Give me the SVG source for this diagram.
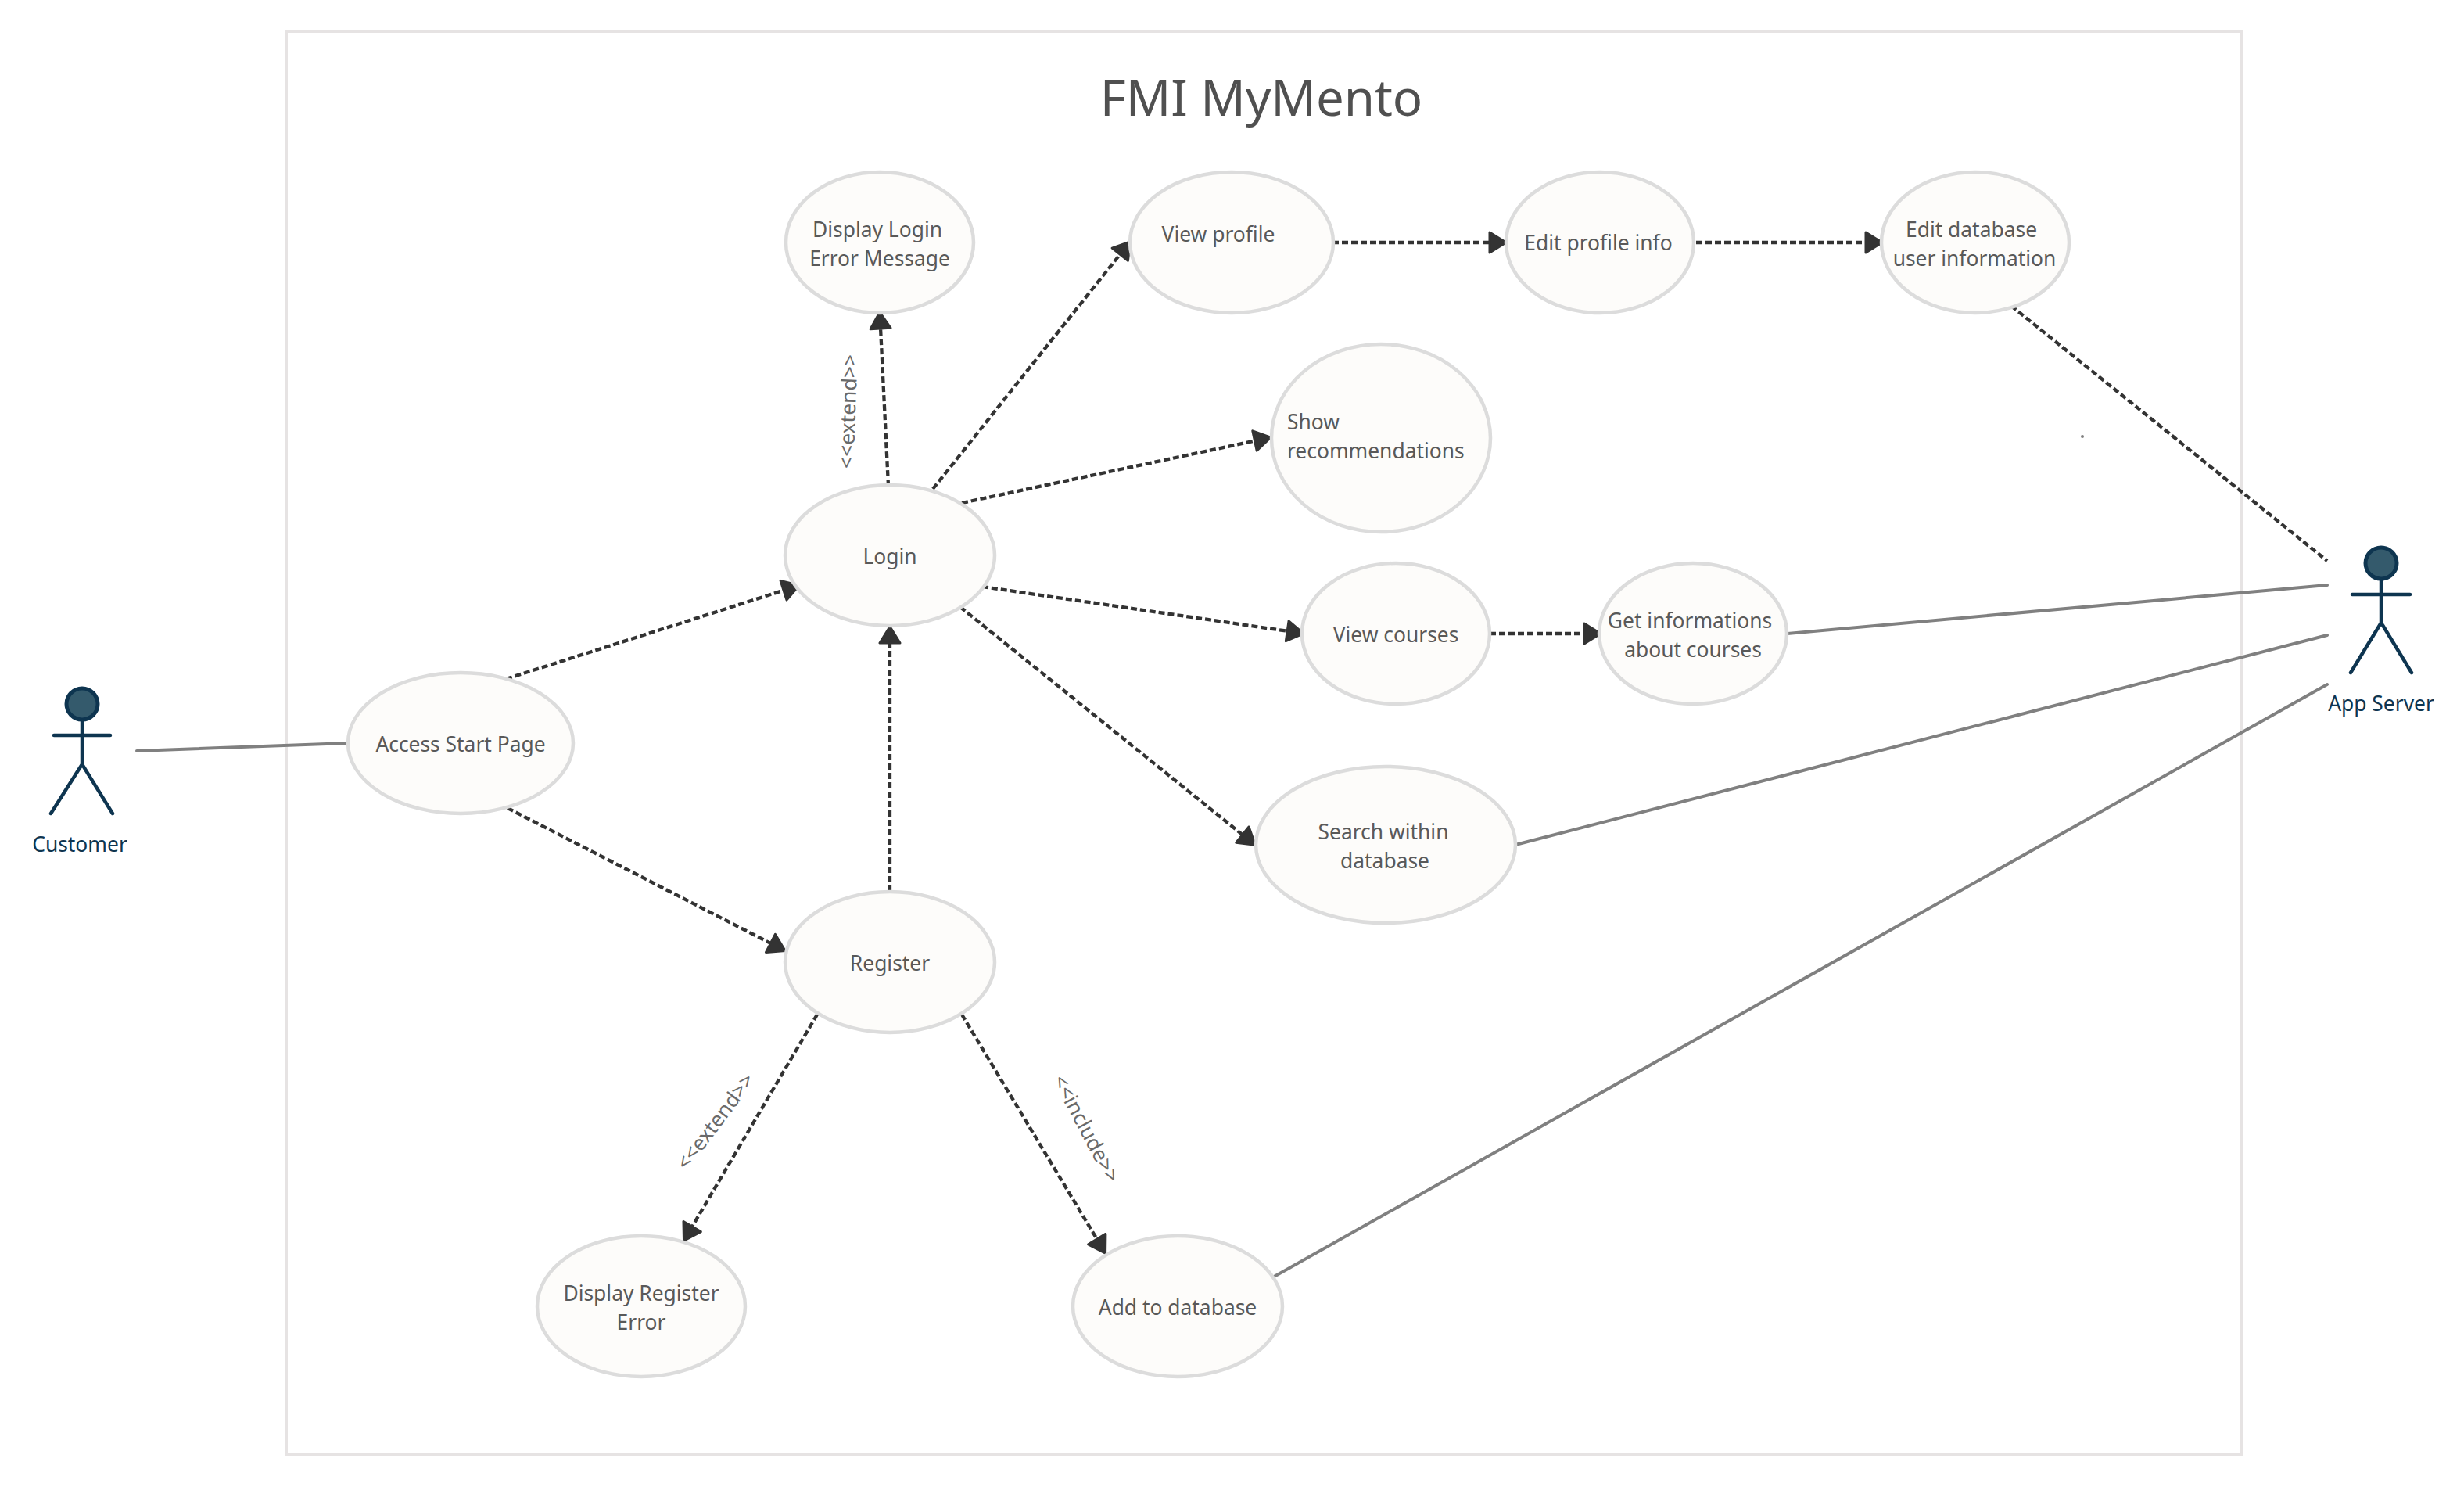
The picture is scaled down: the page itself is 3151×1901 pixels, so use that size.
<svg xmlns="http://www.w3.org/2000/svg" width="3151" height="1901" viewBox="0 0 3151 1901">
<style>
text{font-family:"Noto Sans","Open Sans",sans-serif}
.uc{fill:#fdfcfa;stroke:#dcdcdc;stroke-width:4.5}
.t{font-size:26.4px;fill:#595959;text-anchor:middle}
.l{font-size:26.5px;fill:#6a6a6a;text-anchor:middle}
.a{font-size:26.4px;fill:#0e3550;text-anchor:middle}
.d{stroke:#333;stroke-width:4.3;stroke-dasharray:8 4;fill:none}
.da{marker-end:url(#arr)}
.s{stroke:#808080;stroke-width:4;fill:none;stroke-linecap:round}
.head{fill:#345a6c;stroke:#0e3550;stroke-width:5}
.fig{stroke:#0e3550;stroke-width:4.5;fill:none;stroke-linecap:round}
</style>
<defs>
<marker id="arr" markerUnits="userSpaceOnUse" markerWidth="32" markerHeight="32" refX="11" refY="15" orient="auto">
<path d="M2 2V28L23 15Z" fill="#333" stroke="#333" stroke-width="3" stroke-linejoin="round"/>
</marker>
</defs>
<rect id="frame" x="366" y="40" width="2500" height="1819" fill="#fff" stroke="#e6e3e3" stroke-width="4"/>
<text id="title" x="1613" y="148" font-size="63.5" fill="#505050" text-anchor="middle">FMI MyMento</text>
<g id="connectors">
<line class="s" x1="175" y1="960" x2="445" y2="950"/>
<line class="d da" x1="647" y1="868" x2="1010.6" y2="752"/>
<line class="d da" x1="649" y1="1033" x2="993.4" y2="1210"/>
<line class="d da" x1="1138" y1="1140" x2="1138" y2="813"/>
<line class="d da" x1="1136" y1="621" x2="1125.6" y2="411"/>
<line class="d da" x1="1193" y1="625" x2="1437.9" y2="318.2"/>
<line class="d da" x1="1230" y1="643" x2="1613.3" y2="561.7"/>
<line class="d da" x1="1256" y1="750" x2="1655.1" y2="808.1"/>
<line class="d da" x1="1228" y1="776" x2="1595.9" y2="1072.8"/>
<line class="d da" x1="1905" y1="810" x2="2035" y2="810"/>
<line class="d da" x1="1704" y1="310" x2="1914" y2="310"/>
<line class="d da" x1="2169" y1="310" x2="2395" y2="310"/>
<line class="d" x1="2572" y1="391" x2="2976" y2="717"/>
<line class="d da" x1="1045" y1="1297" x2="880.6" y2="1575.8"/>
<line class="d da" x1="1230" y1="1297" x2="1407.4" y2="1591.8"/>
<line class="s" x1="2285" y1="810" x2="2976" y2="748"/>
<line class="s" x1="1938" y1="1080" x2="2976" y2="812"/>
<line class="s" x1="1624" y1="1635" x2="2976" y2="875"/>
</g>
<g id="labels">
<text class="l" transform="translate(1085 526) rotate(-88)" y="9">&lt;&lt;extend&gt;&gt;</text>
<text class="l" transform="translate(915 1434) rotate(-53)" y="9">&lt;&lt;extend&gt;&gt;</text>
<text class="l" transform="translate(1389 1443) rotate(62)" y="9">&lt;&lt;include&gt;&gt;</text>
</g>
<circle id="speck" cx="2663" cy="558" r="2" fill="#808080"/>
<g id="customer"><ellipse class="head" cx="105" cy="900" rx="20" ry="20"/><path class="fig" d="M105 921V977M69 940H141M65 1040L105 977L144 1040"/><text class="a" x="102" y="1089">Customer</text></g>
<g id="appserver"><ellipse class="head" cx="3045" cy="720" rx="20" ry="20"/><path class="fig" d="M3045 741V796M3008 760H3082M3006 860L3045 796L3084 860"/><text class="a" x="3045" y="909">App Server</text></g>
<g id="access"><ellipse class="uc" cx="589" cy="950" rx="144" ry="90"/><text class="t" x="589" y="961">Access Start Page</text></g>
<g id="displaylogin"><ellipse class="uc" cx="1125" cy="310" rx="120" ry="90"/><text class="t" x="1122" y="303">Display Login</text><text class="t" x="1125" y="340">Error Message</text></g>
<g id="viewprofile"><ellipse class="uc" cx="1575" cy="310" rx="130" ry="90"/><text class="t" x="1558" y="309">View profile</text></g>
<g id="editprofile"><ellipse class="uc" cx="2046" cy="310" rx="120" ry="90"/><text class="t" x="2044" y="320">Edit profile info</text></g>
<g id="editdb"><ellipse class="uc" cx="2526" cy="310" rx="120" ry="90"/><text class="t" x="2521" y="303">Edit database</text><text class="t" x="2525" y="340">user information</text></g>
<g id="show"><ellipse class="uc" cx="1766" cy="560" rx="140" ry="120"/><text class="t" style="text-anchor:start" x="1646" y="549">Show</text><text class="t" style="text-anchor:start" x="1646" y="586">recommendations</text></g>
<g id="login"><ellipse class="uc" cx="1138" cy="710" rx="134" ry="90"/><text class="t" x="1138" y="721">Login</text></g>
<g id="viewcourses"><ellipse class="uc" cx="1785" cy="810" rx="120" ry="90"/><text class="t" x="1785" y="821">View courses</text></g>
<g id="getinfo"><ellipse class="uc" cx="2165" cy="810" rx="120" ry="90"/><text class="t" x="2161" y="803">Get informations</text><text class="t" x="2165" y="840">about courses</text></g>
<g id="search"><ellipse class="uc" cx="1772" cy="1080" rx="166" ry="100"/><text class="t" x="1769" y="1073">Search within</text><text class="t" x="1771" y="1110">database</text></g>
<g id="register"><ellipse class="uc" cx="1138" cy="1230" rx="134" ry="90"/><text class="t" x="1138" y="1241">Register</text></g>
<g id="displayregister"><ellipse class="uc" cx="820" cy="1670" rx="133" ry="90"/><text class="t" x="820" y="1663">Display Register</text><text class="t" x="820" y="1700">Error</text></g>
<g id="addtodb"><ellipse class="uc" cx="1506" cy="1670" rx="134" ry="90"/><text class="t" x="1506" y="1681">Add to database</text></g>
</svg>
